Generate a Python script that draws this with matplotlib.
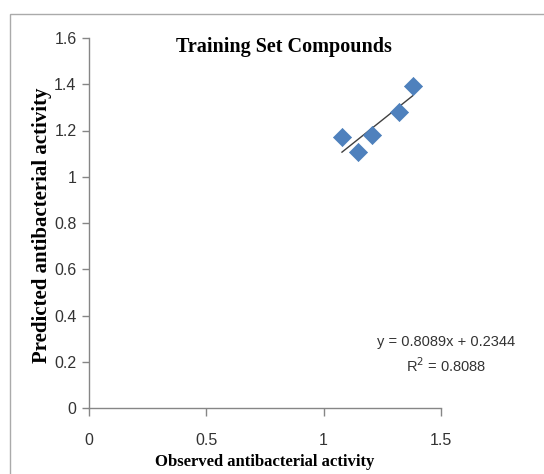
import numpy as np
import matplotlib
matplotlib.use("Agg")
import matplotlib.pyplot as plt
from matplotlib.patches import Rectangle

# datos
observado = [1.078, 1.148, 1.204, 1.322, 1.379]
predicho = [1.170, 1.105, 1.182, 1.278, 1.391]
pendiente = 0.8089
intercepto = 0.2344
r2 = 0.8088

xticks = [0, 0.5, 1, 1.5]
xticklabels = ["0", "0.5", "1", "1.5"]
yticks = [0, 0.2, 0.4, 0.6, 0.8, 1, 1.2, 1.4, 1.6]
yticklabels = ["0", "0.2", "0.4", "0.6", "0.8", "1", "1.2", "1.4", "1.6"]

fuente_num = ["Liberation Sans", "DejaVu Sans"]
fuente_txt = ["Liberation Serif", "DejaVu Serif"]

fig = plt.figure(figsize=(5.44, 4.74), dpi=100)
ax = fig.add_axes([89 / 544, 1 - 408 / 474, 352 / 544, 370 / 474])

# marco gris de la figura
fig.patches.append(Rectangle((10 / 544, -0.1), 1.2, 1 - 14 / 474 + 0.1,
                             transform=fig.transFigure, fill=False,
                             edgecolor="#aaaaaa", linewidth=1.0))

ax.scatter(observado, predicho, marker="D", s=85, color="#4F81BD",
           edgecolors="#4A7EBB", linewidths=0.5, zorder=3)

# linea de tendencia
xt = np.array([min(observado), max(observado)])
ax.plot(xt, pendiente * xt + intercepto, color="#404040", linewidth=1.0, zorder=2)

ax.set_xlim(0, 1.5)
ax.set_ylim(0, 1.6)
ax.set_xticks(xticks)
ax.set_xticklabels(xticklabels, family=fuente_num, fontsize=11.5, color="#333333")
ax.set_yticks(yticks)
ax.set_yticklabels(yticklabels, family=fuente_num, fontsize=11.5, color="#333333")
ax.tick_params(axis="x", direction="out", length=6, width=1, color="#868686", pad=12)
ax.tick_params(axis="y", direction="out", length=5, width=1, color="#868686", pad=4)

for lado in ["top", "right"]:
    ax.spines[lado].set_visible(False)
for lado in ["left", "bottom"]:
    ax.spines[lado].set_color("#868686")
    ax.spines[lado].set_linewidth(1)

fig.text(284 / 544, 1 - 47 / 474, "Training Set Compounds", family=fuente_txt,
         fontweight="bold", fontsize=14.5, ha="center", va="center")
fig.text(265 / 544, 1 - 462 / 474, "Observed antibacterial activity", family=fuente_txt,
         fontweight="bold", fontsize=12, ha="center", va="center")
fig.text(42 / 544, 1 - 225 / 474, "Predicted antibacterial activity", family=fuente_txt,
         fontweight="bold", fontsize=15, ha="center", va="center", rotation=90)

ax.text(1.014, 0.143, "y = %.4fx + %.4f\nR$^2$ = %.4f" % (pendiente, intercepto, r2),
        transform=ax.transAxes, family=fuente_num, fontsize=10.5, color="#333333",
        ha="center", va="center", linespacing=1.5)

fig.savefig("out.png", dpi=100)
